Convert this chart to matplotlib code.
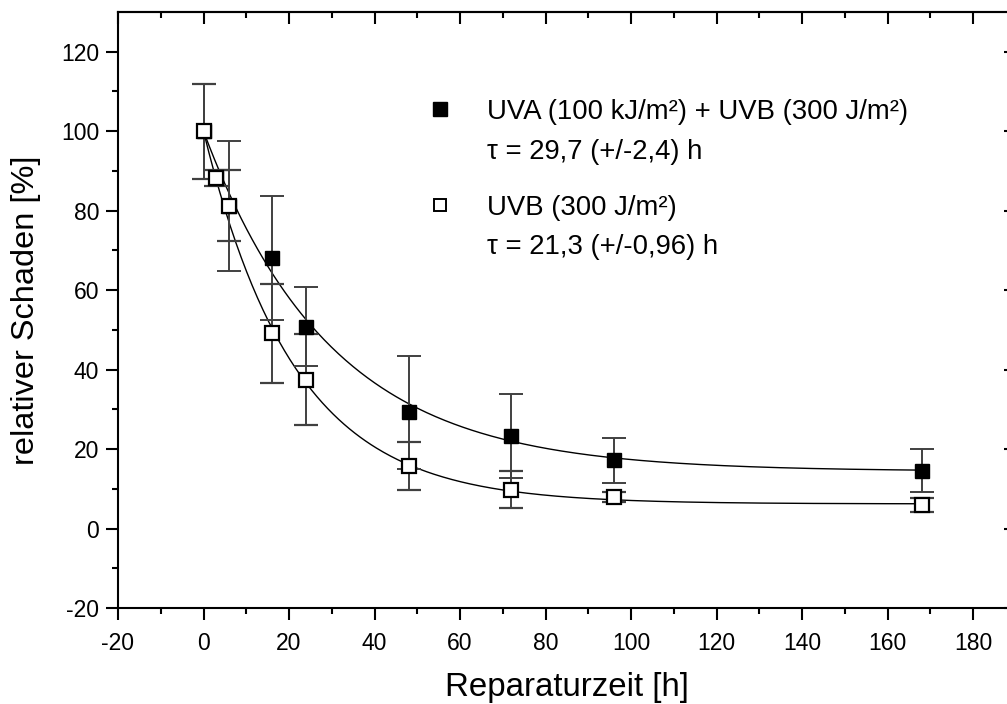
import numpy as np
import matplotlib
matplotlib.use("Agg")
import matplotlib.pyplot as plt

plt.rcParams['font.family'] = ['Liberation Sans', 'DejaVu Sans']
plt.rcParams['axes.unicode_minus'] = False

# Reparaturzeit [h]
hours = [0, 3, 6, 16, 24, 48, 72, 96, 168]

# UVA (100 kJ/m²) + UVB (300 J/m²)
uva_uvb = [100, 88.3, 81.2, 68.0, 50.8, 29.3, 23.2, 17.2, 14.6]
uva_uvb_err = [12.0, 2.0, 16.4, 15.6, 9.9, 14.2, 10.6, 5.7, 5.5]

# UVB (300 J/m²)
uvb = [100, 88.3, 81.3, 49.1, 37.5, 15.7, 9.8, 7.9, 6.0]
uvb_err = [12.0, 2.0, 9.0, 12.5, 11.5, 6.0, 4.7, 1.3, 1.8]

# exponential fit parameters (tau from the chart, offset/amplitude)
fit_uva_uvb = dict(tau=29.7, y0=14.4, amp=85.6)
fit_uvb = dict(tau=21.3, y0=6.2, amp=93.8)

W, H = 1007, 704
fig = plt.figure(figsize=(W / 100, H / 100), dpi=100)
# axes right spine lies just outside the picture, as in the original
ax = fig.add_axes([118 / W, (H - 608) / H, 898 / W, 596 / H])

t = np.linspace(0, max(hours), 400)
for p in (fit_uva_uvb, fit_uvb):
    ax.plot(t, p['y0'] + p['amp'] * np.exp(-t / p['tau']), color='black', lw=1.0, zorder=2)

eb_kw = dict(ls='none', ecolor='#404040', elinewidth=1.4, capsize=8.6, capthick=1.4, zorder=3)
ax.errorbar(hours, uva_uvb, yerr=uva_uvb_err, marker='s', ms=9.5, mfc='black', mec='black', **eb_kw)
ax.errorbar(hours, uvb, yerr=uvb_err, marker='s', ms=9.5, mfc='white', mec='black', mew=1.6, **eb_kw)

xmaj = np.arange(-20, 181, 20)
xmin = np.arange(-10, 190, 10)
ymaj = np.arange(-20, 121, 20)
ymin = np.arange(-10, 130, 10)

ax.set_xlim(-20, 190)
ax.set_ylim(-20, 130)
ax.set_xticks(xmaj)
ax.set_xticks(xmin, minor=True)
ax.set_yticks(ymaj)
ax.set_yticks(ymin, minor=True)

for s in ax.spines.values():
    s.set_linewidth(1.5)
ax.tick_params(which='both', width=1.5, labelsize=16.5, direction='out')
ax.tick_params(which='major', length=8.6)
ax.tick_params(which='minor', length=4.5)
ax.tick_params(axis='x', which='major', pad=9)
ax.tick_params(axis='y', which='major', pad=5)

sec_x = ax.secondary_xaxis('top')
sec_x.set_xticks(xmaj)
sec_x.set_xticks(xmin, minor=True)
sec_x.tick_params(which='both', direction='in', width=1.5, labeltop=False)
sec_x.tick_params(which='major', length=8.6)
sec_x.tick_params(which='minor', length=4.5)
sec_y = ax.secondary_yaxis('right')
sec_y.set_yticks(ymaj)
sec_y.set_yticks(ymin, minor=True)
sec_y.tick_params(which='both', direction='in', width=1.5, labelright=False)
sec_y.tick_params(which='major', length=8.6)
sec_y.tick_params(which='minor', length=4.5)
for sec in (sec_x, sec_y):
    for s in sec.spines.values():
        s.set_linewidth(1.5)

ax.set_xlabel('Reparaturzeit [h]', fontsize=23.8, labelpad=12)
ax.set_ylabel('relativer Schaden [%]', fontsize=23.4, labelpad=14)

# legend written as text, like in the original
ax.plot([55.4], [105.5], marker='s', ms=9.5, color='black', ls='none')
ax.plot([55.4], [81.4], marker='s', ms=8.5, mfc='white', mec='black', mew=1.4, ls='none')
ax.text(66.2, 104.8, 'UVA (100 kJ/m²) + UVB (300 J/m²)', fontsize=19.8, va='center')
ax.text(66.2, 94.8, 'τ = 29,7 (+/-2,4) h', fontsize=19.8, va='center')
ax.text(66.2, 80.6, 'UVB (300 J/m²)', fontsize=19.8, va='center')
ax.text(66.2, 70.8, 'τ = 21,3 (+/-0,96) h', fontsize=19.8, va='center')

fig.savefig('out.png', dpi=100)
